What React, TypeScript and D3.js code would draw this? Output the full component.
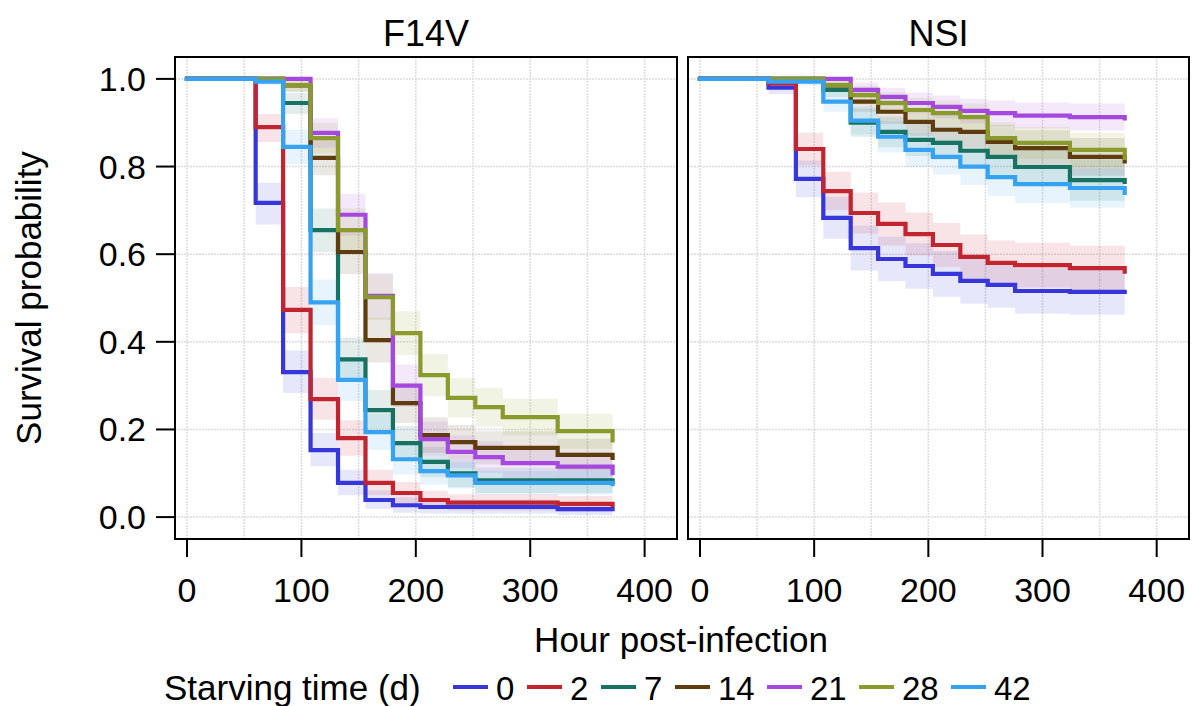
import React from "react";
import * as d3 from "d3";

// ---- data ----
const hours = [0, 60, 84, 108, 132, 156, 180, 204, 228, 252, 276, 324, 372];
const groups = ["0", "2", "7", "14", "21", "28", "42"];
const groupColors = ["#3636DB", "#C22430", "#177262", "#5E3C10", "#A448E0", "#8B9A2D", "#36A3F2"];
const panels = ["F14V", "NSI"];
const xTicks = [0, 100, 200, 300, 400];
const yTicks = [0, 0.2, 0.4, 0.6, 0.8, 1.0];

// F14V survival estimates and confidence limits
const f14v_0 = [1, 0.717, 0.331, 0.153, 0.078, 0.039, 0.027, 0.023, 0.023, 0.023, 0.023, 0.018, 0.018];
const f14v_0_lo = [1, 0.668, 0.283, 0.116, 0.050, 0.019, 0.010, 0.008, 0.008, 0.008, 0.008, 0.005, 0.005];
const f14v_0_hi = [1, 0.763, 0.380, 0.192, 0.108, 0.061, 0.045, 0.040, 0.040, 0.040, 0.040, 0.033, 0.033];
const f14v_2 = [1, 0.89, 0.473, 0.269, 0.18, 0.078, 0.055, 0.039, 0.033, 0.033, 0.033, 0.03, 0.027];
const f14v_2_lo = [1, 0.856, 0.420, 0.222, 0.140, 0.050, 0.031, 0.019, 0.015, 0.015, 0.015, 0.012, 0.010];
const f14v_2_hi = [1, 0.920, 0.525, 0.318, 0.221, 0.108, 0.080, 0.060, 0.052, 0.052, 0.052, 0.048, 0.045];
const f14v_7 = [1, 1, 0.945, 0.655, 0.36, 0.244, 0.169, 0.126, 0.10, 0.084, 0.084, 0.084, 0.08];
const f14v_7_lo = [1, 1, 0.920, 0.605, 0.310, 0.200, 0.130, 0.091, 0.068, 0.055, 0.055, 0.055, 0.052];
const f14v_7_hi = [1, 1, 0.968, 0.704, 0.410, 0.290, 0.208, 0.160, 0.132, 0.113, 0.113, 0.113, 0.108];
const f14v_14 = [1, 1, 0.985, 0.82, 0.605, 0.404, 0.26, 0.187, 0.171, 0.158, 0.158, 0.142, 0.135];
const f14v_14_lo = [1, 1, 0.970, 0.780, 0.555, 0.353, 0.215, 0.147, 0.132, 0.120, 0.120, 0.106, 0.100];
const f14v_14_hi = [1, 1, 1, 0.860, 0.655, 0.455, 0.305, 0.228, 0.210, 0.196, 0.196, 0.179, 0.170];
const f14v_21 = [1, 1, 1, 0.877, 0.69, 0.505, 0.30, 0.178, 0.149, 0.137, 0.123, 0.115, 0.10];
const f14v_21_lo = [1, 1, 1, 0.843, 0.642, 0.453, 0.252, 0.138, 0.112, 0.101, 0.089, 0.082, 0.070];
const f14v_21_hi = [1, 1, 1, 0.910, 0.738, 0.557, 0.348, 0.218, 0.186, 0.173, 0.157, 0.148, 0.130];
const f14v_28 = [1, 1, 0.986, 0.865, 0.655, 0.502, 0.42, 0.324, 0.272, 0.251, 0.228, 0.196, 0.175];
const f14v_28_lo = [1, 1, 0.972, 0.830, 0.605, 0.450, 0.370, 0.276, 0.227, 0.207, 0.186, 0.156, 0.138];
const f14v_28_hi = [1, 1, 1, 0.900, 0.705, 0.554, 0.470, 0.372, 0.317, 0.295, 0.270, 0.236, 0.212];
const f14v_42 = [1, 0.994, 0.845, 0.49, 0.313, 0.194, 0.132, 0.105, 0.095, 0.078, 0.078, 0.078, 0.075];
const f14v_42_lo = [1, 0.986, 0.806, 0.438, 0.265, 0.153, 0.097, 0.074, 0.065, 0.051, 0.051, 0.051, 0.048];
const f14v_42_hi = [1, 1, 0.884, 0.542, 0.361, 0.235, 0.167, 0.136, 0.125, 0.105, 0.105, 0.105, 0.102];

// NSI survival estimates and confidence limits
const nsi_0 = [1, 0.98, 0.772, 0.683, 0.614, 0.589, 0.573, 0.555, 0.539, 0.53, 0.516, 0.514, 0.514];
const nsi_0_lo = [1, 0.965, 0.730, 0.635, 0.563, 0.538, 0.521, 0.503, 0.487, 0.478, 0.464, 0.462, 0.462];
const nsi_0_hi = [1, 0.995, 0.814, 0.731, 0.665, 0.640, 0.625, 0.607, 0.591, 0.582, 0.568, 0.566, 0.566];
const nsi_2 = [1, 0.99, 0.84, 0.744, 0.694, 0.669, 0.646, 0.621, 0.594, 0.58, 0.575, 0.568, 0.56];
const nsi_2_lo = [1, 0.980, 0.803, 0.700, 0.647, 0.620, 0.597, 0.571, 0.543, 0.529, 0.524, 0.517, 0.509];
const nsi_2_hi = [1, 1, 0.877, 0.788, 0.741, 0.718, 0.695, 0.671, 0.645, 0.631, 0.626, 0.619, 0.611];
const nsi_7 = [1, 1, 1, 0.975, 0.9, 0.879, 0.861, 0.854, 0.836, 0.822, 0.799, 0.769, 0.765];
const nsi_7_lo = [1, 1, 1, 0.958, 0.868, 0.844, 0.824, 0.816, 0.796, 0.781, 0.756, 0.722, 0.718];
const nsi_7_hi = [1, 1, 1, 0.992, 0.932, 0.914, 0.898, 0.892, 0.876, 0.863, 0.842, 0.816, 0.812];
const nsi_14 = [1, 1, 1, 0.985, 0.948, 0.925, 0.902, 0.884, 0.879, 0.856, 0.842, 0.822, 0.812];
const nsi_14_lo = [1, 1, 1, 0.972, 0.925, 0.897, 0.870, 0.849, 0.843, 0.817, 0.801, 0.779, 0.768];
const nsi_14_hi = [1, 1, 1, 0.998, 0.971, 0.953, 0.934, 0.919, 0.915, 0.895, 0.883, 0.865, 0.856];
const nsi_21 = [1, 1, 1, 1, 0.975, 0.959, 0.945, 0.936, 0.927, 0.922, 0.916, 0.913, 0.91];
const nsi_21_lo = [1, 1, 1, 1, 0.958, 0.938, 0.921, 0.910, 0.899, 0.893, 0.886, 0.882, 0.878];
const nsi_21_hi = [1, 1, 1, 1, 0.992, 0.980, 0.969, 0.962, 0.955, 0.951, 0.946, 0.944, 0.942];
const nsi_28 = [1, 1, 1, 0.986, 0.963, 0.945, 0.929, 0.922, 0.913, 0.865, 0.854, 0.838, 0.82];
const nsi_28_lo = [1, 1, 1, 0.973, 0.942, 0.920, 0.901, 0.893, 0.882, 0.829, 0.817, 0.799, 0.779];
const nsi_28_hi = [1, 1, 1, 0.999, 0.984, 0.970, 0.957, 0.951, 0.944, 0.901, 0.891, 0.877, 0.861];
const nsi_42 = [1, 0.994, 0.994, 0.948, 0.905, 0.868, 0.838, 0.822, 0.8, 0.776, 0.76, 0.751, 0.74];
const nsi_42_lo = [1, 0.985, 0.985, 0.925, 0.873, 0.832, 0.799, 0.782, 0.758, 0.733, 0.716, 0.706, 0.694];
const nsi_42_hi = [1, 1, 1, 0.971, 0.937, 0.904, 0.877, 0.862, 0.842, 0.819, 0.804, 0.796, 0.786];

const panelSeries = [
  [
    [f14v_0, f14v_0_lo, f14v_0_hi],
    [f14v_2, f14v_2_lo, f14v_2_hi],
    [f14v_7, f14v_7_lo, f14v_7_hi],
    [f14v_14, f14v_14_lo, f14v_14_hi],
    [f14v_21, f14v_21_lo, f14v_21_hi],
    [f14v_28, f14v_28_lo, f14v_28_hi],
    [f14v_42, f14v_42_lo, f14v_42_hi],
  ],
  [
    [nsi_0, nsi_0_lo, nsi_0_hi],
    [nsi_2, nsi_2_lo, nsi_2_hi],
    [nsi_7, nsi_7_lo, nsi_7_hi],
    [nsi_14, nsi_14_lo, nsi_14_hi],
    [nsi_21, nsi_21_lo, nsi_21_hi],
    [nsi_28, nsi_28_lo, nsi_28_hi],
    [nsi_42, nsi_42_lo, nsi_42_hi],
  ],
];

// ---- layout ----
const W = 1192;
const H = 706;
const FONT = "'Liberation Sans', Arial, Helvetica, sans-serif";
const panelX = [
  [175, 677],
  [688, 1189],
];
const top = 57;
const bottom = 539;
const yScale = d3.scaleLinear().domain([-0.05, 1.05]).range([bottom, top]);

export default function App() {
  const gridX = d3.range(0, 401, 50);
  return (
    <svg
      width={W}
      height={H}
      style={{ position: "absolute", left: 0, top: 0, background: "#fff" }}
      fontFamily={FONT}
    >
      <defs>
        {panels.map((p, pi) => (
          <clipPath id={`clip${pi}`} key={p}>
            <rect x={panelX[pi][0]} y={top} width={panelX[pi][1] - panelX[pi][0]} height={bottom - top} />
          </clipPath>
        ))}
      </defs>
      {panels.map((p, pi) => {
        const x = d3.scaleLinear().domain([-10.5, 428.3]).range(panelX[pi]);
        const idx = hours.map((_, i) => i);
        const line = (vals: number[]) =>
          d3
            .line<number>()
            .x((i) => x(hours[i]))
            .y((i) => yScale(vals[i]))
            .curve(d3.curveStepAfter)(idx) as string;
        const area = (lo: number[], hi: number[]) =>
          d3
            .area<number>()
            .x((i) => x(hours[i]))
            .y0((i) => yScale(lo[i]))
            .y1((i) => yScale(hi[i]))
            .curve(d3.curveStepAfter)(idx) as string;
        const cx = (panelX[pi][0] + panelX[pi][1]) / 2;
        return (
          <g key={p}>
            <text x={cx} y={46} textAnchor="middle" fontSize={36}>
              {p}
            </text>
            {/* grid */}
            <g stroke="#dcdcdc" strokeWidth={1.5} strokeDasharray="2,1">
              {gridX.map((g) => (
                <line key={"gx" + g} x1={x(g)} x2={x(g)} y1={top} y2={bottom} />
              ))}
              {yTicks.map((g) => (
                <line key={"gy" + g} x1={panelX[pi][0]} x2={panelX[pi][1]} y1={yScale(g)} y2={yScale(g)} />
              ))}
            </g>
            <g clipPath={`url(#clip${pi})`}>
              {panelSeries[pi].map((s, si) => (
                <path key={"b" + si} d={area(s[1], s[2])} fill={groupColors[si]} fillOpacity={0.12} stroke="none" />
              ))}
              {panelSeries[pi].map((s, si) => (
                <path
                  key={"l" + si}
                  d={line(s[0])}
                  fill="none"
                  stroke={groupColors[si]}
                  strokeWidth={4.2}
                  strokeLinejoin="miter"
                  strokeLinecap="square"
                />
              ))}
            </g>
            <rect
              x={panelX[pi][0]}
              y={top}
              width={panelX[pi][1] - panelX[pi][0]}
              height={bottom - top}
              fill="none"
              stroke="#000"
              strokeWidth={2}
            />
            {/* x axis */}
            {xTicks.map((t) => (
              <g key={"xt" + t}>
                <line x1={x(t)} x2={x(t)} y1={bottom} y2={bottom + 18} stroke="#000" strokeWidth={2} />
                <text x={x(t)} y={602} textAnchor="middle" fontSize={34}>
                  {t}
                </text>
              </g>
            ))}
            {pi === 0 &&
              yTicks.map((t) => (
                <g key={"yt" + t}>
                  <line x1={panelX[0][0] - 19} x2={panelX[0][0]} y1={yScale(t)} y2={yScale(t)} stroke="#000" strokeWidth={2} />
                  <text x={146} y={yScale(t) + 12} textAnchor="end" fontSize={34}>
                    {t.toFixed(1)}
                  </text>
                </g>
              ))}
          </g>
        );
      })}
      <text x={681} y={652} textAnchor="middle" fontSize={35}>
        Hour post-infection
      </text>
      <text transform="translate(41,298) rotate(-90)" textAnchor="middle" fontSize={35}>
        Survival probability
      </text>
      {/* legend */}
      <g>
        <text x={164} y={700} fontSize={35}>
          Starving time (d)
        </text>
        {(() => {
          let cur = 453;
          return groups.map((g, i) => {
            const x0 = cur;
            const labelX = x0 + 43;
            cur = labelX + g.length * 18 + 13;
            return (
              <g key={g}>
                <line x1={x0} x2={x0 + 35} y1={687} y2={687} stroke={groupColors[i]} strokeWidth={4} />
                <text x={labelX} y={700} fontSize={33}>
                  {g}
                </text>
              </g>
            );
          });
        })()}
      </g>
    </svg>
  );
}
